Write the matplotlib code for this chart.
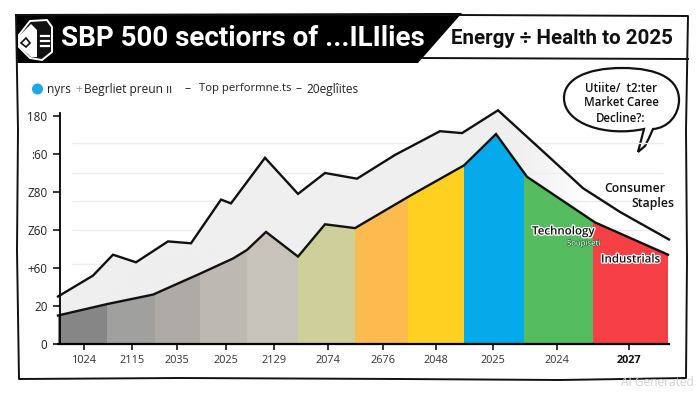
import numpy as np
import matplotlib
matplotlib.use("Agg")
import matplotlib.pyplot as plt
import matplotlib.patheffects as pe
from matplotlib.path import Path
from matplotlib.patches import PathPatch, Polygon, Circle

# ---- data ----
top_x = [0, 35, 55, 78, 110, 133, 163, 173, 207, 240, 267, 299, 337, 382, 404, 440, 492, 525, 562, 611]
top_y = [25, 36, 47, 43, 54, 53, 76, 74, 98, 79, 90, 87, 99.5, 112, 111, 123, 98, 82, 69.5, 55]
low_x = [0, 49, 95, 142, 175, 189, 208, 240, 267, 297, 352, 406, 438, 469, 537, 610]
low_y = [15, 21, 26, 37, 45, 49.5, 59, 46, 63, 61, 78, 94, 110.5, 88, 64, 47]
seg_edges = [0, 49, 97, 142, 189, 240, 297, 350, 406, 466, 535, 611]
seg_colors = ["#868686", "#a0a09e", "#aeaba7", "#bdb9b2", "#c8c3ba", "#cfcf9b",
              "#fdbb4f", "#ffd020", "#05aaea", "#55bc60", "#f74045"]
ytick_vals = [0, 20, 40, 60, 80, 100, 120]
ytick_labels = ["0", "20", "+60", "Z60", "Z80", ":60", "180"]
grid_vals = [42, 60, 75, 90, 106]
xtick_pos = [26, 74, 119, 168, 216, 270, 325, 378, 435, 499, 571]
xtick_labels = ["1024", "2115", "2035", "2025", "2129", "2074", "2676", "2048", "2025", "2024", "2027"]

FONT = "Open Sans"
TITLE_FONT = "Roboto"

fig = plt.figure(figsize=(7, 3.93), dpi=100, facecolor="white")

# ---- decoration layer, in figure pixels ----
bg = fig.add_axes([0, 0, 1, 1])
bg.set_xlim(0, 700)
bg.set_ylim(393, 0)
bg.axis("off")

frame_x = [16, 18, 17, 19, 180, 400, 560, 686, 687, 686, 688, 686, 460, 16]
frame_y = [15, 130, 250, 379, 378, 379, 380, 378, 260, 130, 16, 16, 15, 15]
bg.plot(frame_x, frame_y, color="#111111", lw=1.4, solid_joinstyle="round")
bg.plot([420, 688], [58, 59], color="#111111", lw=1.4)
bg.add_patch(Polygon([(16, 14), (462, 13), (418, 63), (16, 63)], closed=True,
                     facecolor="black", edgecolor="none"))

# icon in the banner
bg.add_patch(Polygon([(19, 35), (30, 21), (47, 20), (52, 27), (52, 52), (42, 60), (30, 58), (19, 47)],
                     closed=True, facecolor="#111111", edgecolor="white", lw=1.4))
bg.add_patch(Polygon([(20, 35), (31, 24), (37, 30), (37, 57), (31, 57), (20, 47)],
                     closed=True, facecolor="white", edgecolor="none"))
bg.add_patch(Polygon([(21, 43), (26, 38), (30, 43), (26, 47)], closed=True,
                     facecolor="white", edgecolor="#111111", lw=1.2))
for y in (36, 41, 46):
    bg.plot([41, 49], [y, y], color="white", lw=1.6)

bg.text(61, 39, "SBP 500 sectiorrs of ...ILIlies", color="white", family=TITLE_FONT,
        weight="bold", fontsize=20, va="center", ha="left")
bg.text(451, 38, "Energy ÷ Health to 2025", color="#111111", family=TITLE_FONT,
        weight="bold", fontsize=14.8, va="center", ha="left")

# sub-heading row
bg.add_patch(Circle((37.5, 89), 5.5, facecolor="#1ea7e6", edgecolor="none"))
sub_pieces = [(47, "nyrs", "#222222", 8.6), (75, "+", "#999999", 8.6), (84, "Begrliet preun ıı", "#222222", 8.6),
              (185, "–", "#222222", 8.6), (199, "Top performne.ts", "#222222", 8.1),
              (296, "–", "#222222", 8.6), (306, "20eglîites", "#222222", 8.6)]
for x, s, c, fs in sub_pieces:
    bg.text(x, 89, s, color=c, family=FONT, fontsize=fs, va="center", ha="left")

# speech bubble
verts = [(638, 152), (644, 129),
         (606, 137), (564, 124), (564, 98),
         (564, 80), (585, 68), (622, 68),
         (660, 68), (679, 80), (679, 100),
         (679, 115), (668, 128), (653, 129),
         (649, 138), (645, 146), (638, 152)]
codes = [Path.MOVETO, Path.LINETO] + [Path.CURVE4] * 12 + [Path.LINETO] * 3
bg.add_patch(PathPatch(Path(verts, codes), facecolor="white", edgecolor="#111111", lw=1.6, zorder=5))
for y, s in [(88, "Utiite/  t2:ter"), (103, "Market Caree"), (118, "Decline?:")]:
    bg.text(621, y, s, color="#111111", family=FONT, fontsize=8.3, weight="semibold",
            va="center", ha="center", zorder=6)

bg.text(694, 383, "AI Generated", color="#d2d2d2", family=FONT, fontsize=8.6, va="center", ha="right")

# ---- chart ----
ax = fig.add_axes([58 / 700, 49 / 393, 611 / 700, (128 / 0.5263) / 393])
ax.patch.set_alpha(0)
ax.set_xlim(0, 611)
ax.set_ylim(0, 128)

# band between the two lines, fading out to the right of the peak
band = ax.fill(top_x + low_x[::-1], top_y + low_y[::-1], color="none", lw=0)[0]
fade = np.ones((1, 612, 4))
fade[..., :3] = 239 / 255
fade[..., 3] = np.clip((535 - np.arange(612)) / 75, 0, 1)
img = ax.imshow(fade, extent=(0, 611, 0, 128), aspect="auto", zorder=1, interpolation="bilinear")
img.set_clip_path(band)
ax.hlines(grid_vals, 14, 605, color="#ececec", lw=1, zorder=0.5)

under = ax.fill(low_x + [low_x[-1], 0], low_y + [0, 0], color="none", lw=0)[0]
for i, c in enumerate(seg_colors):
    span = ax.axvspan(seg_edges[i], seg_edges[i + 1], color=c, lw=0, zorder=2)
    span.set_clip_path(under)

ax.plot(top_x, top_y, color="#111111", lw=1.7, zorder=3, solid_joinstyle="miter", clip_on=False)
ax.plot(low_x, low_y, color="#111111", lw=1.7, zorder=3, solid_joinstyle="miter", clip_on=False)

ax.set_xlim(0, 611)
ax.set_ylim(0, 128)
for s in ("top", "right"):
    ax.spines[s].set_visible(False)
ax.spines["left"].set_position(("data", 2))
ax.spines["left"].set_bounds(0, 121.5)
ax.spines["left"].set_linewidth(1.3)
ax.spines["bottom"].set_linewidth(1.6)
ax.spines["left"].set_zorder(4)
ax.spines["bottom"].set_zorder(4)
ax.set_yticks(ytick_vals, ytick_labels, family=FONT, fontsize=8.4, color="#222222")
ax.set_xticks(xtick_pos, xtick_labels, family=FONT, fontsize=7.8, color="#333333")
ax.tick_params(axis="y", length=5, width=1.1, pad=4)
ax.tick_params(axis="x", length=4, width=1.1, pad=4)
ax.get_xticklabels()[-1].set_fontweight("bold")
ax.get_xticklabels()[-1].set_color("#111111")

white_halo = [pe.withStroke(linewidth=1.8, foreground="white")]
green_halo = [pe.withStroke(linewidth=1.0, foreground="#2f7a3a")]
bg2 = fig.add_axes([0, 0, 1, 1])
bg2.set_xlim(0, 700)
bg2.set_ylim(393, 0)
bg2.axis("off")
bg2.text(665, 189, "Consumer", color="#111111", family=FONT, fontsize=8.8, weight="semibold", va="center", ha="right")
bg2.text(674, 203, "Staples", color="#111111", family=FONT, fontsize=8.8, weight="semibold", va="center", ha="right")
bg2.text(532, 231, "Technology", color="#111111", family=FONT, fontsize=8.3, weight="semibold",
         va="center", ha="left", path_effects=white_halo)
bg2.text(567, 244, "Soupiseti", color="white", family=FONT, fontsize=5.6,
         va="center", ha="left", path_effects=green_halo)
bg2.text(601, 259, "Industrials", color="#111111", family=FONT, fontsize=8.3, weight="semibold",
         va="center", ha="left", path_effects=white_halo)

fig.savefig("out.png", dpi=100)
